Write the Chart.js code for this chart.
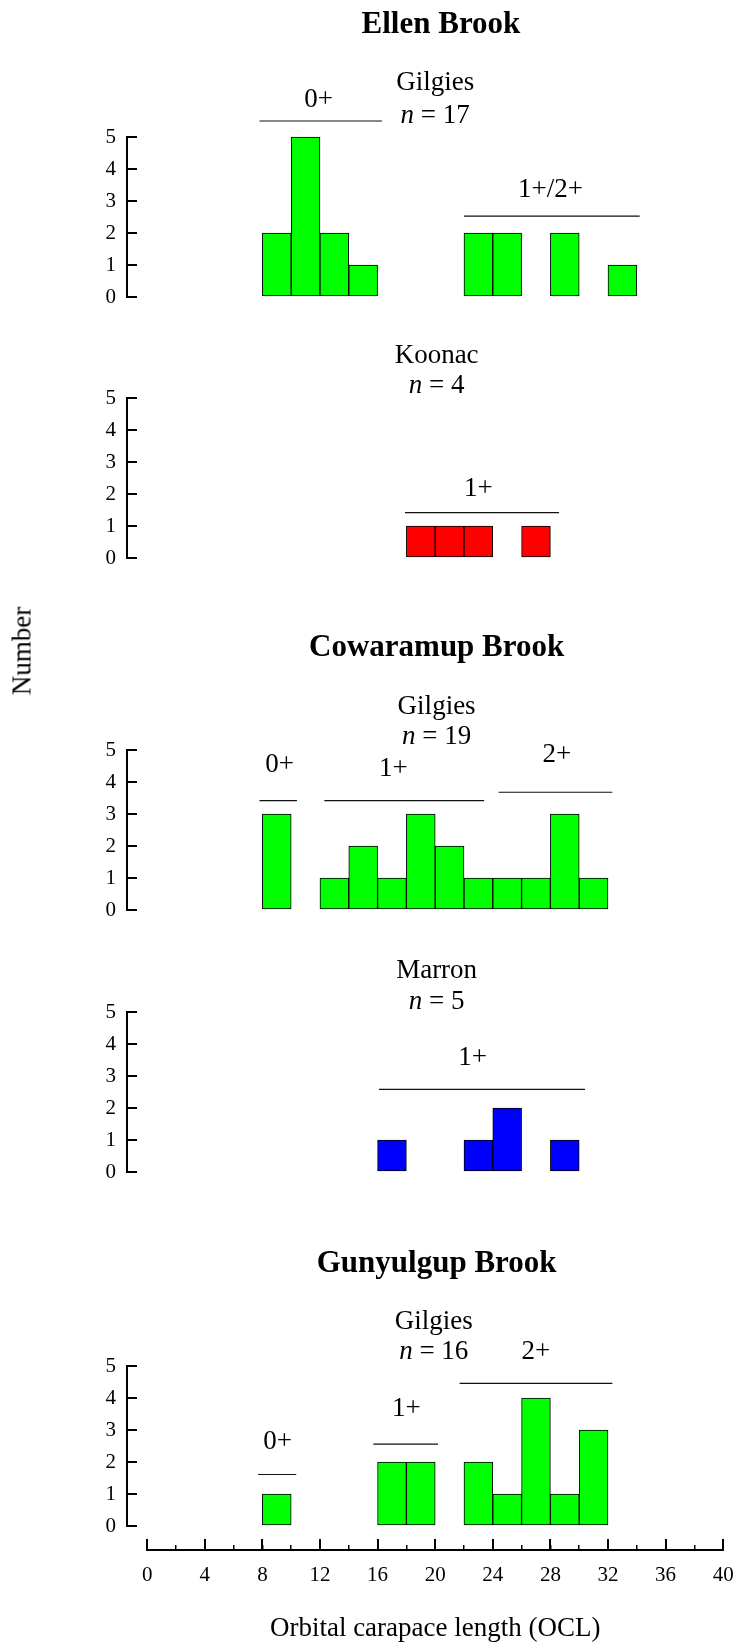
<!DOCTYPE html>
<html>
<head>
<meta charset="utf-8">
<title>Orbital carapace length frequencies</title>
<script src="https://cdn.jsdelivr.net/npm/chart.js@4.4.1/dist/chart.umd.min.js"></script>
<style>
  html, body { margin: 0; padding: 0; background: #fff; }
  #page { position: relative; width: 739px; height: 1652px; overflow: hidden; }
  #page canvas { position: absolute; left: 0; }
  #y-title {
    position: absolute; left: 22px; top: 651px;
    font: 27px 'Liberation Serif', 'Times New Roman', serif; color: #000;
    transform: translate(-50%, -50%) rotate(-90deg); white-space: nowrap;
  }
</style>
</head>
<body>
<div id="page">
  <canvas id="ellen-gilgies" width="739" height="320" style="top:-3px"></canvas>
  <canvas id="ellen-koonac" width="739" height="320" style="top:258px"></canvas>
  <canvas id="cow-gilgies" width="739" height="320" style="top:610px"></canvas>
  <canvas id="cow-marron" width="739" height="320" style="top:872px"></canvas>
  <canvas id="gun-gilgies" width="739" height="320" style="top:1226px"></canvas>
  <canvas id="ocl-axis" width="739" height="152" style="top:1500px"></canvas>
  <div id="y-title">Number</div>
</div>
<script>
    // 2 mm size classes (bin centres) of orbital carapace length
    const binCentres = [1, 3, 5, 7, 9, 11, 13, 15, 17, 19, 21, 23, 25, 27, 29, 31, 33, 35, 37, 39];

    // Number of animals in each size class
    const ellenGilgies = [0, 0, 0, 0, 2, 5, 2, 1, 0, 0, 0, 2, 2, 0, 2, 0, 1, 0, 0, 0];
    const ellenKoonac  = [0, 0, 0, 0, 0, 0, 0, 0, 0, 1, 1, 1, 0, 1, 0, 0, 0, 0, 0, 0];
    const cowGilgies   = [0, 0, 0, 0, 3, 0, 1, 2, 1, 3, 2, 1, 1, 1, 3, 1, 0, 0, 0, 0];
    const cowMarron    = [0, 0, 0, 0, 0, 0, 0, 0, 1, 0, 0, 1, 2, 0, 1, 0, 0, 0, 0, 0];
    const gunGilgies   = [0, 0, 0, 0, 1, 0, 0, 0, 2, 2, 0, 2, 1, 4, 1, 3, 0, 0, 0, 0];

    // Age classes: label, OCL from, OCL to, bar level, label x, label level
    const ellenGilgiesAges = [['0+', 7.8, 16.3, 5.5, 11.9, 5.94], ['1+/2+', 22.0, 34.2, 2.53, 28.0, 3.13]];
    const ellenKoonacAges  = [['1+', 17.9, 28.6, 1.42, 23.0, 1.93]];
    const cowGilgiesAges   = [['0+', 7.8, 10.4, 3.42, 9.2, 4.30], ['1+', 12.3, 23.4, 3.42, 17.1, 4.20], ['2+', 24.4, 32.3, 3.68, 28.45, 4.61]];
    const cowMarronAges    = [['1+', 16.1, 30.4, 2.58, 22.6, 3.33]];
    const gunGilgiesAges   = [['0+', 7.7, 10.35, 1.61, 9.05, 2.40], ['1+', 15.7, 20.2, 2.56, 18.0, 3.44], ['2+', 21.7, 32.3, 4.46, 27.0, 5.21]];

    // Tick labels
    const countTicks = [0, 1, 2, 3, 4, 5];
    const oclTicks = [0, 4, 8, 12, 16, 20, 24, 28, 32, 36, 40];
    const oclMinorTicks = [0, 2, 4, 6, 8, 10, 12, 14, 16, 18, 20, 22, 24, 26, 28, 30, 32, 34, 36, 38, 40];

    const SERIF = "'Liberation Serif', 'Times New Roman', serif";

    // Titles, species names and age labels drawn against the panel scales
    const panelTextPlugin = {
        id: 'panelText',
        afterDraw(chart, args, opts) {
            const ctx = chart.ctx;
            const xs = chart.scales.x;
            const ys = chart.scales.y;
            ctx.save();
            ctx.fillStyle = '#000';
            ctx.textBaseline = 'alphabetic';
            ctx.textAlign = 'center';

            if (opts.title) {
                ctx.font = 'bold 31px ' + SERIF;
                ctx.fillText(opts.title, xs.getPixelForValue(opts.titleX), ys.getPixelForValue(opts.titleY));
            }

            ctx.font = '27px ' + SERIF;
            const cx = xs.getPixelForValue(opts.textX);
            ctx.fillText(opts.species, cx, ys.getPixelForValue(opts.speciesY));

            // "n = 17" with an italic n
            const rest = ' = ' + opts.n;
            ctx.font = 'italic 27px ' + SERIF;
            const w1 = ctx.measureText('n').width;
            ctx.font = '27px ' + SERIF;
            const w2 = ctx.measureText(rest).width;
            const x0 = cx - (w1 + w2) / 2;
            const yN = ys.getPixelForValue(opts.nY);
            ctx.textAlign = 'left';
            ctx.font = 'italic 27px ' + SERIF;
            ctx.fillText('n', x0, yN);
            ctx.font = '27px ' + SERIF;
            ctx.fillText(rest, x0 + w1, yN);

            ctx.textAlign = 'center';
            opts.ages.forEach(function(a) {
                ctx.fillText(a[0], xs.getPixelForValue(a[4]), ys.getPixelForValue(a[5]));
            });
            ctx.restore();
        }
    };

    function sum(values) {
        return values.reduce((a, b) => a + b, 0);
    }

    // Keep label overflow from shrinking the plot area
    function noScalePadding(scale) {
        scale.paddingTop = 0;
        scale.paddingBottom = 0;
        scale.paddingLeft = 0;
        scale.paddingRight = 0;
    }

    // Build one histogram panel
    function makePanel(canvasId, counts, colour, ages, text) {
        const barData = binCentres.map((x, i) => ({ x: x, y: counts[i] > 0 ? counts[i] : null }));

        const ageLines = ages.map(a => ({
            type: 'line',
            data: [{ x: a[1], y: a[3] }, { x: a[2], y: a[3] }],
            borderColor: '#111',
            borderWidth: 1.2,
            pointRadius: 0,
            fill: false,
            clip: false
        }));

        text.ages = ages;
        text.n = sum(counts);

        return new Chart(document.getElementById(canvasId), {
            type: 'bar',
            data: {
                datasets: [{
                    data: barData,
                    backgroundColor: colour,
                    borderColor: '#000',
                    borderWidth: 1,
                    borderSkipped: false,
                    barPercentage: 1,
                    categoryPercentage: 1,
                    clip: false
                }].concat(ageLines)
            },
            options: {
                responsive: false,
                animation: false,
                events: [],
                layout: { autoPadding: false, padding: { top: 140, bottom: 20, left: 0, right: 15.8 } },
                plugins: {
                    legend: { display: false },
                    tooltip: { enabled: false },
                    panelText: text
                },
                scales: {
                    x: {
                        type: 'linear', min: -1.4, max: 40, offset: false, display: false,
                        grid: { offset: false },
                        afterFit: noScalePadding
                    },
                    y: {
                        type: 'linear',
                        min: 0,
                        max: 5,
                        afterBuildTicks: function(scale) {
                            scale.ticks = countTicks.map(v => ({ value: v }));
                        },
                        afterFit: function(scale) {
                            scale.width = 127;
                            noScalePadding(scale);
                        },
                        border: { display: true, color: '#000', width: 2 },
                        grid: { drawOnChartArea: false, drawTicks: true, tickLength: -10, color: '#000', lineWidth: 2 },
                        ticks: { color: '#000', padding: 21, font: { family: SERIF, size: 21 } }
                    }
                }
            },
            plugins: [panelTextPlugin]
        });
    }

    makePanel('ellen-gilgies', ellenGilgies, '#00ff00', ellenGilgiesAges,
        { title: 'Ellen Brook', titleX: 20.4, titleY: 8.26, species: 'Gilgies', textX: 20.0, speciesY: 6.47, nY: 5.45 });
    makePanel('ellen-koonac', ellenKoonac, '#ff0000', ellenKoonacAges,
        { species: 'Koonac', textX: 20.1, speciesY: 6.08, nY: 5.15 });
    makePanel('cow-gilgies', cowGilgies, '#00ff00', cowGilgiesAges,
        { title: 'Cowaramup Brook', titleX: 20.1, titleY: 7.95, species: 'Gilgies', textX: 20.1, speciesY: 6.13, nY: 5.2 });
    makePanel('cow-marron', cowMarron, '#0000ff', cowMarronAges,
        { species: 'Marron', textX: 20.1, speciesY: 6.05, nY: 5.08 });
    makePanel('gun-gilgies', gunGilgies, '#00ff00', gunGilgiesAges,
        { title: 'Gunyulgup Brook', titleX: 20.1, titleY: 7.93, species: 'Gilgies', textX: 19.9, speciesY: 6.15, nY: 5.21 });

    // Shared OCL axis under the last panel
    new Chart(document.getElementById('ocl-axis'), {
        type: 'bar',
        data: { datasets: [] },
        options: {
            responsive: false,
            animation: false,
            events: [],
            layout: { autoPadding: false, padding: { left: 147.2, right: 15.8, top: 0, bottom: 0 } },
            plugins: { legend: { display: false }, tooltip: { enabled: false } },
            scales: {
                x: {
                    type: 'linear',
                    position: 'bottom',
                    min: 0,
                    max: 40,
                    offset: false,
                    afterBuildTicks: function(scale) {
                        scale.ticks = oclTicks.map(v => ({ value: v }));
                    },
                    afterFit: function(scale) {
                        scale.height = 102;
                        noScalePadding(scale);
                    },
                    border: { display: true, color: '#000', width: 2 },
                    grid: { offset: false, drawOnChartArea: false, drawTicks: true, tickLength: -11, color: '#000', lineWidth: 2 },
                    ticks: { color: '#000', padding: 23.4, maxRotation: 0, autoSkip: false, font: { family: SERIF, size: 21 } },
                    title: {
                        display: true,
                        text: 'Orbital carapace length (OCL)',
                        color: '#000',
                        font: { family: SERIF, size: 27 },
                        padding: { top: 0, bottom: 7 }
                    }
                },
                xMinor: {
                    type: 'linear',
                    axis: 'x',
                    position: { y: 0 },
                    min: 0,
                    max: 40,
                    offset: false,
                    afterBuildTicks: function(scale) {
                        scale.ticks = oclMinorTicks.map(v => ({ value: v }));
                    },
                    afterFit: noScalePadding,
                    border: { display: false },
                    grid: { offset: false, drawOnChartArea: false, drawTicks: true, tickLength: -5, color: '#000', lineWidth: 1.5 },
                    ticks: { display: false }
                },
                y: { type: 'linear', min: 0, max: 1, display: false, afterFit: noScalePadding }
            }
        }
    });
</script>
</body>
</html>
